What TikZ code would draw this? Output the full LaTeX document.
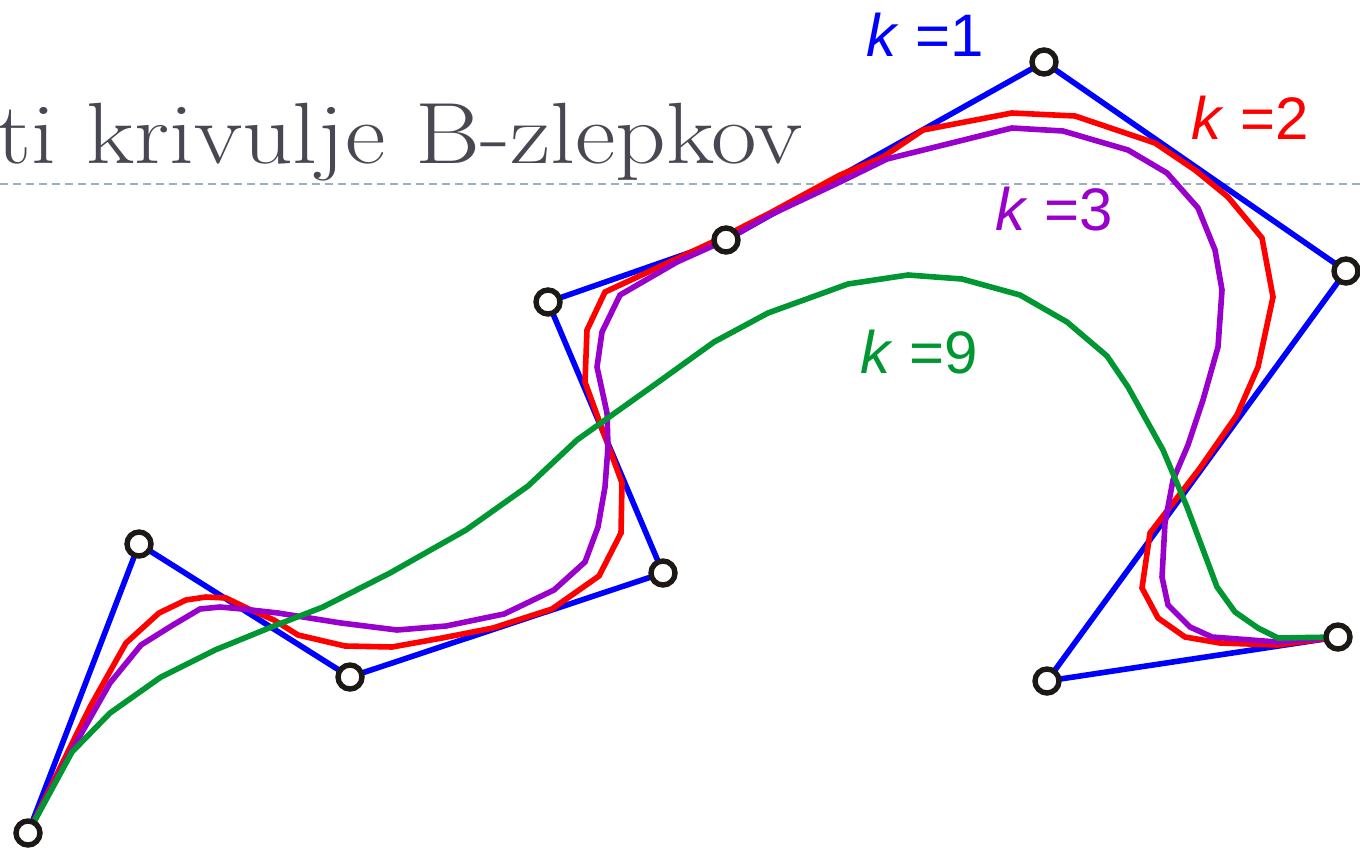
\documentclass[tikz,border=0pt]{standalone}
\usepackage{fontspec}
\newfontfamily\labfont{Liberation Sans}
\usetikzlibrary{calc}
\definecolor{titlegray}{RGB}{72,72,82}
\definecolor{dashgray}{RGB}{155,175,195}
\definecolor{kblue}{RGB}{0,0,255}
\definecolor{kred}{RGB}{255,0,0}
\definecolor{kpurple}{RGB}{153,0,204}
\definecolor{kgreen}{RGB}{0,150,50}
\definecolor{cpblack}{RGB}{28,24,22}
\begin{document}
\begin{tikzpicture}[x=1pt,y=-1pt,
  curve/.style={line width=5.6pt},
  cp/.style={circle,draw=cpblack,fill=white,line width=5.4pt,minimum size=24pt,inner sep=0pt},
  klab/.style={anchor=base west,inner sep=0pt,font=\labfont\fontsize{60}{60}\selectfont}]
\useasboundingbox (0,0) rectangle (1360,848);
% title and guide line
\node[anchor=base west,inner sep=0pt,text=titlegray] (title) at (-4,164)
  {\scalebox{1.14}[1]{\fontsize{87}{87}\selectfont ti krivulje B-zlepkov}};
\coordinate (gl) at (0,184);
\coordinate (gr) at (1360,184);
\draw[dashgray,line width=1.8pt,dash pattern=on 8pt off 5pt] (gl) -- (gr);
% control points
\coordinate (c0) at (28,833);
\coordinate (c1) at (139,544);
\coordinate (c2) at (350,677);
\coordinate (c3) at (663,573);
\coordinate (c4) at (548,302);
\coordinate (c5) at (726,240);
\coordinate (c6) at (1044,62);
\coordinate (c7) at (1346,271);
\coordinate (c8) at (1047,681);
\coordinate (c9) at (1338,637);
% k=1 control polygon
\draw[curve,kblue] (c0) -- (c1) -- (c2) -- (c3) -- (c4) -- (c5) -- (c6) -- (c7) -- (c8) -- (c9);
% k=2
\draw[curve,kred] (c0) -- (90,707) -- (126,643) -- (159,613) -- (186,600) -- (206,597) -- (226,598)
  -- (251,610) -- (274,620) -- (298,635) -- (345,646) -- (392,647) -- (442,638) -- (493,628)
  -- (552,609) -- (599,576) -- (621,533) -- (622,483) -- (600,423) -- (585,382) -- (587,330)
  -- (605,292) -- (717,240) -- (770,213) -- (840,175) -- (883,157) -- (923,130) -- (1012,113)
  -- (1075,116) -- (1155,143) -- (1195,170) -- (1228,197) -- (1262,238) -- (1273,297)
  -- (1258,367) -- (1237,415) -- (1200,468) -- (1150,533) -- (1142,588) -- (1158,618)
  -- (1185,637) -- (1220,643) -- (1277,645) -- (c9);
% k=3
\draw[curve,kpurple] (c0) -- (72,750) -- (110,683) -- (141,645) -- (173,625) -- (200,609) -- (220,607)
  -- (242,609) -- (278,613) -- (341,623) -- (397,630) -- (446,626) -- (504,614) -- (554,590)
  -- (585,562) -- (598,527) -- (605,487) -- (608,447) -- (607,413) -- (597,367) -- (602,332)
  -- (620,295) -- (677,262) -- (726,240) -- (770,215) -- (840,182) -- (887,159) -- (1012,128)
  -- (1063,131) -- (1128,150) -- (1167,173) -- (1198,208) -- (1215,250) -- (1222,290)
  -- (1218,347) -- (1203,400) -- (1188,445) -- (1173,480) -- (1165,523) -- (1162,577)
  -- (1168,605) -- (1190,627) -- (1212,637) -- (1277,642) -- (c9);
% k=9
\draw[curve,kgreen] (c0) -- (72,752) -- (110,713) -- (161,677) -- (215,650) -- (269,628) -- (323,607)
  -- (390,573) -- (466,530) -- (528,486) -- (577,440) -- (657,383) -- (714,342) -- (768,313)
  -- (848,284) -- (908,275) -- (962,279) -- (1020,295) -- (1067,322) -- (1107,356)
  -- (1128,387) -- (1163,450) -- (1187,507) -- (1217,587) -- (1235,612) -- (1258,628)
  -- (1278,638) -- (c9);
% control point markers
\foreach \i in {0,...,9} \node[cp] (p\i) at (c\i) {};
% labels
\node[klab,text=kblue] (l1) at (866,57) {\textit{k} =1};
\node[klab,text=kred] (l2) at (1191,140) {\textit{k} =2};
\node[klab,text=kpurple] (l3) at (995,230) {\textit{k} =3};
\node[klab,text=kgreen] (l9) at (860,373) {\textit{k} =9};
\end{tikzpicture}
\end{document}
